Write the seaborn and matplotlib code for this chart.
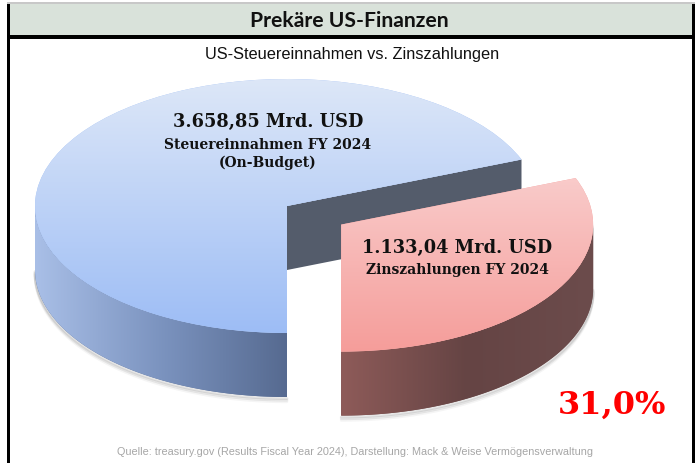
import numpy as np
import matplotlib
matplotlib.use("Agg")
import matplotlib.pyplot as plt
import seaborn as sns
from matplotlib.patches import Rectangle, Polygon

# Werte (Mrd. USD), FY 2024
revenue = 3658.85    # Steuereinnahmen (On-Budget)
interest = 1133.04   # Zinszahlungen
share = interest / revenue          # 31,0 %

slice_names = ["Zinszahlungen", "Steuereinnahmen"]
slice_values = [share, 1 - share]
explode = [0.26, 0.0]

top_colors = [["#f59d9a", "#fbe0e0"], ["#9dbdf5", "#dde7f8"]]            # bottom -> top
side_colors = [["#8e5b59", "#654444", "#6c4c4c"], ["#a9bfe7", "#7b93bf", "#566a90"]]  # left -> right
cut_color = "#545c6b"

label_lines = [
    ["1.133,04 Mrd. USD", "Zinszahlungen FY 2024"],
    ["3.658,85 Mrd. USD", "Steuereinnahmen FY 2024", "(On-Budget)"],
]
title = "Prekäre US-Finanzen"
subtitle = "US-Steuereinnahmen vs. Zinszahlungen"
source = "Quelle: treasury.gov (Results Fiscal Year 2024), Darstellung: Mack & Weise Vermögensverwaltung"
pct_label = "31,0%"

sns.set_theme(style="white")
plt.rcParams["font.family"] = ["DejaVu Sans"]

W, H = 695, 464
fig = plt.figure(figsize=(W / 100, H / 100), dpi=100)
fig.patch.set_facecolor("white")

# background frame in pixel coordinates
bg = fig.add_axes([0, 0, 1, 1], zorder=0)
bg.set_xlim(0, W)
bg.set_ylim(H, 0)
bg.axis("off")
bg.add_patch(Rectangle((7, 3), 688, 2, color="#c8c8c8", lw=0))
bg.add_patch(Rectangle((7, 5), 688, 31, color="#d9e2da", lw=0))
bg.add_patch(Rectangle((7, 36), 688, 4, color="black", lw=0))
bg.add_patch(Rectangle((7, 5), 3, H, color="black", lw=0))
bg.add_patch(Rectangle((692, 5), 3, H, color="black", lw=0))

# pie axes: ellipse centre / semi axes / depth in pixels
cx, cy, a, b, depth_px = 287, 207, 252, 127, 64
depth = depth_px / b
ax = fig.add_axes([0, 0, 1, 1], zorder=1)
ax.set_facecolor("none")
wedges, _ = ax.pie(slice_values, explode=explode, startangle=-90, counterclock=True,
                   radius=1, wedgeprops=dict(linewidth=0))


def rim(w, t):
    t = np.radians(t)
    return np.column_stack([w.center[0] + w.r * np.cos(t), w.center[1] + w.r * np.sin(t)])


def gradient(patch, colors, horizontal, z):
    if isinstance(patch, Polygon):
        verts = patch.get_xy()
        x0, x1 = verts[:, 0].min(), verts[:, 0].max()
        y0, y1 = verts[:, 1].min(), verts[:, 1].max()
    else:
        x0, x1 = patch.center[0] - patch.r, patch.center[0] + patch.r
        y0, y1 = patch.center[1] - patch.r, patch.center[1] + patch.r
    cmap = sns.blend_palette(colors, as_cmap=True)
    arr = np.linspace(0, 1, 256)
    arr = arr[None, :] if horizontal else arr[:, None]
    im = ax.imshow(arr, cmap=cmap, extent=(x0, x1, y0, y1), origin="lower",
                   aspect="auto", zorder=z, interpolation="bilinear")
    im.set_clip_path(patch)


for i in [1, 0]:
    w = wedges[i]
    base = 1 + 3 * (1 - i)
    # soft shadow below the visible side
    lo, hi = (180, 270) if i == 1 else (-90, 0)
    t = np.linspace(max(w.theta1, lo), min(w.theta2, hi), 120)
    top = rim(w, t)
    bot = top - [0, depth]
    for k, alpha in enumerate([0.10, 0.07, 0.04]):
        sh = bot - [0, (k + 1) * 1.6 / b]
        ax.plot(sh[:, 0], sh[:, 1], color="black", alpha=alpha, lw=2, zorder=base - 0.5,
                solid_capstyle="round")
    # visible outer side (front half of the ellipse)
    side = Polygon(np.vstack([top, bot[::-1]]), closed=True, fc=side_colors[i][-1], lw=0, zorder=base)
    ax.add_patch(side)
    gradient(side, side_colors[i], True, base + 0.1)
    if i == 1:
        # cut face towards the exploded slice
        p = rim(w, [w.theta1])[0]
        c = np.array(w.center)
        face = Polygon([c, p, p - [0, depth], c - [0, depth]], closed=True,
                       fc=cut_color, lw=0, zorder=base + 0.2)
        ax.add_patch(face)
    w.set_facecolor(top_colors[i][0])
    w.set_zorder(base + 0.5)
    gradient(w, top_colors[i], False, base + 0.6)

ax.set_aspect("auto")
ax.set_xlim(-cx / a, (W - cx) / a)
ax.set_ylim(-(H - cy) / b, cy / b)
ax.axis("off")


def ftext(x, y, s, **kw):
    fig.text(x / W, 1 - y / H, s, ha="center", va="center", **kw)


ftext(349, 21, title, fontsize=15.2, fontweight="bold", family=["Lato", "DejaVu Sans"], color="#111111")
ftext(352, 55, subtitle, fontsize=11.8, family=["Liberation Sans", "DejaVu Sans"], color="#111111")
serif = ["DejaVu Serif"]
ftext(268, 122, label_lines[1][0], fontsize=12.8, fontweight="bold", family=serif, color="#111111")
ftext(268, 145, label_lines[1][1], fontsize=10, fontweight="bold", family=serif, color="#111111")
ftext(268, 163, label_lines[1][2], fontsize=10, fontweight="bold", family=serif, color="#111111")
ftext(457, 248, label_lines[0][0], fontsize=12.8, fontweight="bold", family=serif, color="#111111")
ftext(457, 270, label_lines[0][1], fontsize=10, fontweight="bold", family=serif, color="#111111")
ftext(612, 405, pct_label, fontsize=23, fontweight="bold", family=serif, color="#ff0000")
ftext(355, 452, source, fontsize=7.8, family=["Liberation Sans", "DejaVu Sans"], color="#a6a6a6")

fig.savefig("out.png", dpi=100)
